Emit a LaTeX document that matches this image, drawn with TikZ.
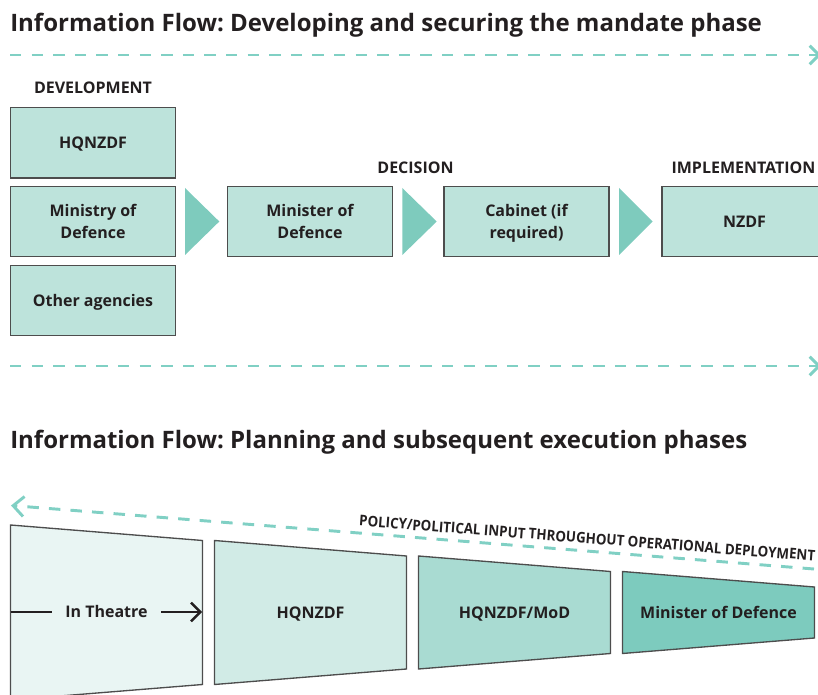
\documentclass[tikz,border=0pt]{standalone}
\usepackage{fontspec}
\setmainfont{Open Sans}
\newfontfamily\condfont[FakeStretch=0.91]{Open Sans}
\usetikzlibrary{arrows.meta}
\frenchspacing
\definecolor{ink}{HTML}{231F20}
\definecolor{edge}{HTML}{4D4D4D}
\definecolor{boxfill}{HTML}{BDE3DB}
\definecolor{wedgefill}{HTML}{7ECBBD}
\definecolor{dashteal}{HTML}{80D0C4}
\definecolor{slabA}{HTML}{E9F5F3}
\definecolor{slabB}{HTML}{D1EBE6}
\definecolor{slabC}{HTML}{A9DBD2}
\definecolor{slabD}{HTML}{7DCBBE}

\begin{document}
\begin{tikzpicture}[x=0.75pt, y=-0.75pt,
every node/.style = {text=ink, font=\bfseries\fontsize{12}{17}\selectfont},
      box/.style = {draw=edge, fill=boxfill, line width=1pt,
                    minimum width=123.75pt, minimum height=52.9pt,
                    align=center, inner sep=2pt, text depth=0pt},
    stage/.style = {anchor=base, inner sep=0pt},
 headline/.style = {anchor=base west, inner sep=0pt,
                    font=\bfseries\fontsize{18}{22}\selectfont},
     flow/.style = {draw=dashteal, line width=2.2pt,
                    dash pattern=on 8.6pt off 7.6pt,
                    -{Straight Barb[length=7pt,width=14pt]}},
    wedge/.style = {fill=wedgefill},
     slab/.style = {draw=edge, line width=1pt, fill=#1},
     push/.style = {draw=ink, line width=1.75pt}
                    ]
\useasboundingbox (0,0) rectangle (818,695);
\clip (0,0) rectangle (818,695);
% mandate phase
\node(T1) [headline] at (10,32) {Information Flow: Developing and securing the mandate phase};
\coordinate (d1L) at (10,55);
\coordinate (d1R) at (821,55);
\draw[flow] (d1L) -- (d1R);
%
\node(Sdev) [stage] at (93,94)    {DEVELOPMENT};
\node(Sdec) [stage] at (415.5,174) {DECISION};
\node(Simp) [stage] at (743.5,174) {IMPLEMENTATION};
%
\node(HQ)  [box] at (93,142.75) {HQNZDF};
\node(MoD) [box] at (93,221.5)  {Ministry of\\Defence};
\node(OA)  [box] at (93,300.5)  {Other agencies};
\node(Min) [box] at (310,221.5) {Minister of\\Defence};
\node(Cab) [box] at (526.5,221.5) {Cabinet (if\\required)};
\node(NZ)  [box] at (744.5,221.5) {NZDF};
%
\fill[wedge] (185,188) -- (219.3,221.5) -- (185,255) -- cycle;
\fill[wedge] (402.3,188) -- (436.7,221.5) -- (402.3,255) -- cycle;
\fill[wedge] (619,188) -- (652.7,221.5) -- (619,255) -- cycle;
%
\coordinate (d2L) at (10,366);
\coordinate (d2R) at (821,366);
\draw[flow] (d2L) -- (d2R);
% planning and execution phases
\node(T2) [headline] at (10,448) {Information Flow: Planning and subsequent execution phases};
%
\draw[slab=slabA] (10.5,525) -- (202.5,540.5) -- (202.5,684.5) -- (10.5,700) -- cycle;
\draw[slab=slabB] (214.5,540.5) -- (406.5,556) -- (406.5,669) -- (214.5,684.5) -- cycle;
\draw[slab=slabC] (418.5,556) -- (610.5,571.5) -- (610.5,653.5) -- (418.5,669) -- cycle;
\draw[slab=slabD] (622.5,571.5) -- (814.5,587) -- (814.5,638) -- (622.5,653.5) -- cycle;
%
\coordinate (polR) at (814,569);
\coordinate (polL) at (11,505.5);
\draw[flow, -{Straight Barb[length=8pt,width=15pt]}] (polR) -- (polL);
\node(pol) [anchor=base east, rotate=-4.4, inner sep=0pt,
            font=\condfont\bfseries\fontsize{11}{13}\selectfont]
      at (815,561) {POLICY/POLITICAL INPUT THROUGHOUT OPERATIONAL DEPLOYMENT};
%
\node(theatre) [anchor=base, inner xsep=10pt] at (106.5,617.5) {In Theatre};
\node(hq)      [stage] at (310.5,618.5) {HQNZDF};
\node(hqmod)   [stage] at (514.5,618.5) {HQNZDF/MoD};
\node(minist)  [stage] at (718.5,618.5) {Minister of Defence};
%
\coordinate (inL) at (10.5,612);
\coordinate (inR) at (202,612);
\draw[push] (inL) -- (inL -| theatre.west);
\draw[push, -{Straight Barb[length=7pt,width=14pt]}] (theatre.east |- inR) -- (inR);
\end{tikzpicture}
\end{document}
